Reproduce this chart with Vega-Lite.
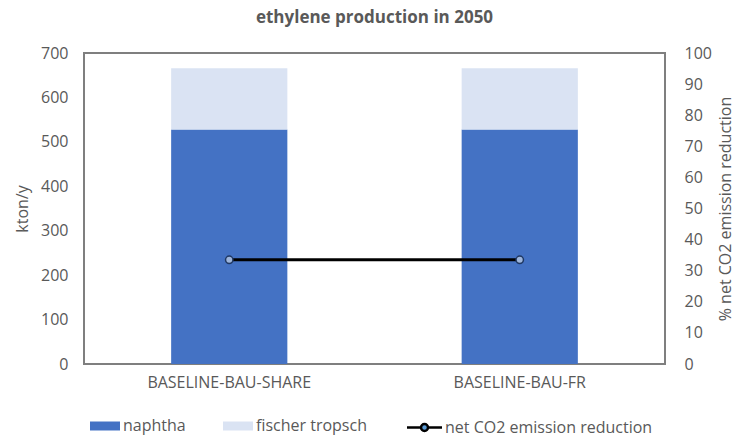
{
  "$schema": "https://vega.github.io/schema/vega-lite/v6.json",
  "width": 581,
  "height": 311,
  "autosize": {"type": "none"},
  "padding": {"left": 84, "top": 53, "right": 75, "bottom": 74},
  "background": "white",
  "title": {
    "text": "ethylene production in 2050",
    "font": "Open Sans",
    "fontSize": 17,
    "fontWeight": "bold",
    "color": "#595959",
    "offset": 18,
    "anchor": "middle"
  },
  "config": {
    "view": {"stroke": "#7f7f7f", "strokeWidth": 2},
    "font": "Open Sans",
    "axis": {
      "labelFont": "Open Sans",
      "labelFontSize": 16,
      "labelColor": "#595959",
      "titleFont": "Open Sans",
      "titleFontSize": 16,
      "titleFontWeight": "normal",
      "titleColor": "#595959",
      "grid": false,
      "ticks": false,
      "tickSize": 0,
      "domain": false
    },
    "legend": {
      "labelFont": "Open Sans",
      "labelFontSize": 16,
      "labelColor": "#595959",
      "labelLimit": 400
    }
  },
  "datasets": {
    "production": [
      {"scenario": "BASELINE-BAU-SHARE", "source": "naphtha", "kton": 528},
      {"scenario": "BASELINE-BAU-SHARE", "source": "fischer tropsch", "kton": 137.5},
      {"scenario": "BASELINE-BAU-FR", "source": "naphtha", "kton": 528},
      {"scenario": "BASELINE-BAU-FR", "source": "fischer tropsch", "kton": 137.5}
    ],
    "reduction": [
      {"scenario": "BASELINE-BAU-SHARE", "pct": 33.5},
      {"scenario": "BASELINE-BAU-FR", "pct": 33.5}
    ]
  },
  "encoding": {
    "x": {
      "field": "scenario",
      "type": "nominal",
      "sort": ["BASELINE-BAU-SHARE", "BASELINE-BAU-FR"],
      "scale": {"paddingInner": 0.6, "paddingOuter": 0.3},
      "axis": {"title": null, "labelAngle": 0, "labelPadding": 10}
    }
  },
  "layer": [
    {
      "data": {"name": "production"},
      "mark": {"type": "bar"},
      "encoding": {
        "y": {
          "field": "kton",
          "type": "quantitative",
          "stack": "zero",
          "scale": {"domain": [0, 700]},
          "axis": {
            "title": "kton/y",
            "orient": "left",
            "values": [0, 100, 200, 300, 400, 500, 600, 700],
            "labelPadding": 16,
            "titlePadding": 10
          }
        },
        "color": {
          "field": "source",
          "type": "nominal",
          "sort": ["naphtha", "fischer tropsch"],
          "scale": {
            "domain": ["naphtha", "fischer tropsch"],
            "range": ["#4472C4", "#DAE3F3"]
          },
          "legend": {
            "title": null,
            "orient": "none",
            "direction": "horizontal",
            "legendX": 11,
            "legendY": 363,
            "symbolType": "M-1.5,-0.45H1.5V0.45H-1.5Z",
            "symbolSize": 400,
            "symbolStrokeWidth": 0,
            "labelOffset": 8,
            "columnPadding": 37
          }
        },
        "order": {"field": "source", "sort": "descending"}
      }
    },
    {
      "data": {"name": "reduction"},
      "encoding": {
        "y": {
          "field": "pct",
          "type": "quantitative",
          "scale": {"domain": [0, 100]},
          "axis": {
            "title": "% net CO2 emission reduction",
            "orient": "right",
            "values": [0, 10, 20, 30, 40, 50, 60, 70, 80, 90, 100],
            "labelPadding": 19,
            "titlePadding": 6,
            "titleAngle": 270,
            "titleBaseline": "top"
          }
        }
      },
      "layer": [
        {
          "mark": {"type": "line", "strokeWidth": 3},
          "encoding": {
            "stroke": {
              "datum": "net CO2 emission reduction",
              "scale": {"range": ["#000000"]},
              "legend": {
                "title": null,
                "orient": "none",
                "legendX": 329,
                "legendY": 363,
                "symbolType": "M-1.75,0H-0.35M0.35,0H1.75M-0.35,0A0.35,0.35 0 1 0 0.35,0A0.35,0.35 0 1 0 -0.35,0",
                "symbolSize": 400,
                "symbolStrokeWidth": 2.5,
                "labelOffset": 9,
                "encode": {"symbols": {"update": {"fill": {"value": "#5B9BD5"}}}}
              }
            }
          }
        },
        {
          "mark": {
            "type": "point",
            "shape": "circle",
            "filled": true,
            "size": 55,
            "fill": "#9DB5DC",
            "stroke": "#1F3864",
            "strokeWidth": 1.5,
            "opacity": 1
          }
        }
      ]
    }
  ],
  "resolve": {"scale": {"y": "independent"}}
}
